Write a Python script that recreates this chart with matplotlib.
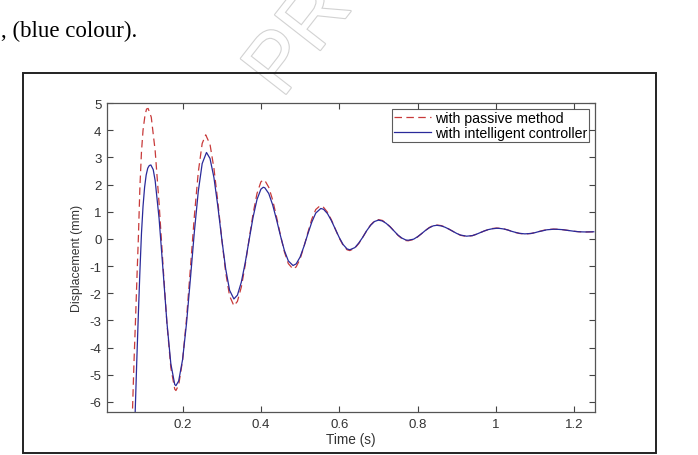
import matplotlib.pyplot as plt
import matplotlib.patheffects as pe
from matplotlib.patches import Rectangle

# passive method (red dashed)
t_passive = [0.066, 0.072, 0.076, 0.080, 0.084, 0.087, 0.091, 0.095, 0.099, 0.104, 0.108, 0.112,
             0.12, 0.13, 0.14, 0.15, 0.16, 0.17, 0.18, 0.183,
             0.19, 0.20, 0.21, 0.22, 0.23, 0.24, 0.25, 0.259,
             0.27, 0.28, 0.29, 0.30, 0.31, 0.32, 0.331,
             0.34, 0.35, 0.36, 0.37, 0.38, 0.39, 0.40, 0.406,
             0.41, 0.42, 0.43, 0.44, 0.45, 0.46, 0.47, 0.482,
             0.49, 0.50, 0.51, 0.52, 0.53, 0.54, 0.551,
             0.56, 0.57, 0.58, 0.59, 0.60, 0.61, 0.62, 0.627,
             0.64, 0.65, 0.66, 0.67, 0.68, 0.69, 0.70,
             0.71, 0.72, 0.73, 0.74, 0.75, 0.76, 0.77, 0.776,
             0.79, 0.80, 0.81, 0.82, 0.83, 0.84, 0.849,
             0.86, 0.87, 0.88, 0.89, 0.90, 0.91, 0.925,
             0.94, 0.95, 0.96, 0.97, 0.98, 0.99, 1.002,
             1.01, 1.02, 1.03, 1.04, 1.05, 1.06, 1.074,
             1.09, 1.10, 1.11, 1.12, 1.13, 1.147,
             1.16, 1.17, 1.18, 1.19, 1.20, 1.21, 1.22, 1.23, 1.24, 1.25]
y_passive = [-8.6, -6.35, -4.5, -2.9, -1.2, 0.0, 1.9, 3.2, 4.0, 4.55, 4.78, 4.80,
             4.48, 3.24, 1.30, -0.96, -3.11, -4.74, -5.53, -5.58,
             -5.38, -4.47, -2.94, -1.07, 0.83, 2.45, 3.51, 3.83,
             3.48, 2.60, 1.36, 0.0, -1.23, -2.10, -2.46,
             -2.30, -1.77, -0.95, 0.0, 0.93, 1.67, 2.10, 2.17,
             2.15, 1.90, 1.43, 0.80, 0.13, -0.48, -0.91, -1.11,
             -1.03, -0.74, -0.28, 0.24, 0.73, 1.08, 1.22,
             1.16, 0.98, 0.70, 0.36, 0.03, -0.24, -0.40, -0.43,
             -0.34, -0.17, 0.06, 0.30, 0.51, 0.66, 0.71,
             0.68, 0.58, 0.45, 0.29, 0.13, 0.01, -0.06, -0.07,
             -0.02, 0.07, 0.19, 0.31, 0.42, 0.49, 0.51,
             0.49, 0.44, 0.36, 0.28, 0.20, 0.13, 0.095,
             0.12, 0.17, 0.23, 0.29, 0.34, 0.38, 0.40,
             0.39, 0.37, 0.33, 0.28, 0.235, 0.20, 0.18,
             0.20, 0.23, 0.27, 0.31, 0.34, 0.36,
             0.355, 0.34, 0.32, 0.30, 0.28, 0.265, 0.258, 0.255, 0.258, 0.262]

# intelligent controller (blue solid)
t_ctrl = [0.073, 0.079, 0.083, 0.087, 0.091, 0.095, 0.099, 0.103, 0.107, 0.111, 0.115, 0.119,
          0.125, 0.13, 0.14, 0.15, 0.16, 0.17, 0.18, 0.183,
          0.19, 0.20, 0.21, 0.22, 0.23, 0.24, 0.25, 0.261,
          0.27, 0.28, 0.29, 0.30, 0.31, 0.32, 0.331,
          0.34, 0.35, 0.36, 0.37, 0.38, 0.39, 0.40, 0.406,
          0.41, 0.42, 0.43, 0.44, 0.45, 0.46, 0.47, 0.482,
          0.49, 0.50, 0.51, 0.52, 0.53, 0.54, 0.553,
          0.56, 0.57, 0.58, 0.59, 0.60, 0.61, 0.62, 0.627,
          0.64, 0.65, 0.66, 0.67, 0.68, 0.69, 0.70,
          0.71, 0.72, 0.73, 0.74, 0.75, 0.76, 0.77, 0.776,
          0.79, 0.80, 0.81, 0.82, 0.83, 0.84, 0.849,
          0.86, 0.87, 0.88, 0.89, 0.90, 0.91, 0.925,
          0.94, 0.95, 0.96, 0.97, 0.98, 0.99, 1.002,
          1.01, 1.02, 1.03, 1.04, 1.05, 1.06, 1.074,
          1.09, 1.10, 1.11, 1.12, 1.13, 1.147,
          1.16, 1.17, 1.18, 1.19, 1.20, 1.21, 1.22, 1.23, 1.24, 1.25]
y_ctrl = [-8.6, -6.35, -4.5, -2.8, -1.2, 0.2, 1.2, 1.9, 2.35, 2.6, 2.7, 2.72,
          2.55, 2.14, 0.75, -1.14, -3.08, -4.60, -5.36, -5.40,
          -5.23, -4.44, -3.11, -1.46, 0.25, 1.74, 2.77, 3.18,
          2.96, 2.26, 1.20, 0.0, -1.10, -1.89, -2.21,
          -2.07, -1.59, -0.87, -0.03, 0.80, 1.45, 1.83, 1.90,
          1.88, 1.67, 1.25, 0.70, 0.11, -0.43, -0.81, -0.98,
          -0.92, -0.67, -0.27, 0.19, 0.62, 0.95, 1.12,
          1.09, 0.93, 0.67, 0.36, 0.05, -0.21, -0.37, -0.40,
          -0.32, -0.15, 0.06, 0.30, 0.50, 0.64, 0.69,
          0.66, 0.57, 0.44, 0.29, 0.14, 0.03, -0.04, -0.05,
          -0.01, 0.08, 0.19, 0.31, 0.41, 0.48, 0.50,
          0.48, 0.43, 0.36, 0.28, 0.20, 0.14, 0.10,
          0.12, 0.17, 0.23, 0.29, 0.34, 0.37, 0.39,
          0.385, 0.365, 0.33, 0.28, 0.24, 0.205, 0.185,
          0.20, 0.23, 0.27, 0.30, 0.335, 0.355,
          0.35, 0.34, 0.32, 0.30, 0.28, 0.265, 0.258, 0.255, 0.258, 0.262]

xticks = [0.2, 0.4, 0.6, 0.8, 1.0, 1.2]
xticklabels = ["0.2", "0.4", "0.6", "0.8", "1", "1.2"]
yticks = list(range(-6, 6))

plt.rcParams['font.family'] = ['Liberation Sans', 'DejaVu Sans']
plt.rcParams['axes.unicode_minus'] = False

fig = plt.figure(figsize=(6.98, 4.56), dpi=100)

# faint outlined watermark behind everything
fig.text(0.43, 0.91, "PR", fontsize=60, rotation=52, ha="center", va="center",
         color="white", family="Liberation Sans",
         path_effects=[pe.withStroke(linewidth=1.6, foreground="#d2d2d2")], zorder=0)

# caption fragment above the figure frame
fig.text(0.002, 0.919, ", (blue colour).", family="Liberation Serif", fontsize=16.5,
         va="baseline", ha="left", color="black")

ax = fig.add_axes([0.1533, 0.0943, 0.6991, 0.6776])
ax.plot(t_passive, y_passive, color="#c83a3a", linestyle="--", dashes=(6, 3.5),
        linewidth=0.9, label="with passive method")
ax.plot(t_ctrl, y_ctrl, color="#2a2a9a", linewidth=0.9, label="with intelligent controller")

ax.set_xlim(0.007, 1.253)
ax.set_ylim(-6.37, 5)
ax.set_xticks(xticks)
ax.set_xticklabels(xticklabels)
ax.set_yticks(yticks)
ax.tick_params(direction="in", length=4, width=0.8, top=True, right=True,
               labelsize=9.5, colors="#444444", labelcolor="#333333", pad=4)
for s in ax.spines.values():
    s.set_color("#555555")
    s.set_linewidth(0.9)

ax.set_xlabel("Time (s)", fontsize=9.8, color="#333333", labelpad=2)
ax.set_ylabel("Displacement (mm)", fontsize=8.8, color="#333333", labelpad=5)

leg = ax.legend(loc="upper right", fontsize=10.2, frameon=True, fancybox=False,
                borderpad=0.15, handlelength=2.6, handletextpad=0.3, labelspacing=0.05,
                borderaxespad=0.4)
leg.get_frame().set_edgecolor("#333333")
leg.get_frame().set_linewidth(0.8)

# outer frame of the figure
fig.patches.append(Rectangle((0.033, 0.005), 0.907, 0.833, transform=fig.transFigure,
                             fill=False, edgecolor="#222222", linewidth=1.4, zorder=5))

fig.savefig("out.png", dpi=100)
